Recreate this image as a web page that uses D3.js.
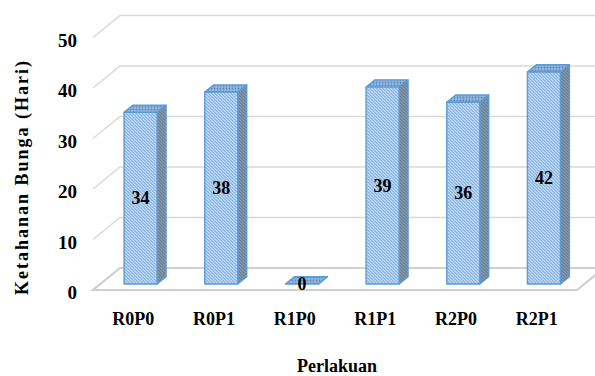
<!DOCTYPE html>
<html>
<head>
<meta charset="utf-8">
<script src="https://cdn.jsdelivr.net/npm/d3@7"></script>
<style>
  html, body { margin: 0; padding: 0; background: #ffffff; }
  svg { display: block; }
</style>
</head>
<body>
<svg id="chart" width="595" height="376"></svg>
<script>
// Flower longevity (days) per treatment
const categories = ["R0P0", "R0P1", "R1P0", "R1P1", "R2P0", "R2P1"];
const values = [34, 38, 0, 39, 36, 42];
const yTicks = [0, 10, 20, 30, 40, 50];
const yTitle = "Ketahanan Bunga (Hari)";
const xTitle = "Perlakuan";

const FONT = "'Liberation Serif', 'Times New Roman', Tinos, 'DejaVu Serif', serif";

const svg = d3.select("#chart")
  .attr("font-family", FONT).attr("font-weight", "bold");

// Oblique 3D projection: front plane + depth vector
const floorLeft = 93, floorRight = 577, floorY = 290;
const depthDX = 27, depthDY = -22;      // full depth of the plot box
const barZ0 = 0.27, barZ1 = 0.6;        // bar position inside the depth

const x = d3.scaleBand().domain(categories)
  .range([floorLeft, floorRight])
  .paddingInner(0.59).paddingOuter(0.295);
const y = d3.scaleLinear().domain([0, 50]).range([floorY, floorY - 252.5]);

// project (front-plane x, value, depth z) -> screen
const P = (px, v, z) => [px + depthDX * z, y(v) + depthDY * z];
const poly = pts => "M" + pts.map(p => p.join(",")).join("L") + "Z";

// Fill patterns for the bar faces
const defs = svg.append("defs");
function hatch(id, bg, fg, size, w) {
  const p = defs.append("pattern").attr("id", id)
    .attr("patternUnits", "userSpaceOnUse").attr("width", size).attr("height", size);
  p.append("rect").attr("width", size).attr("height", size).attr("fill", bg);
  p.append("path")
    .attr("d", `M0,0L${size},${size}M${-size},0L${size},${2*size}M0,${-size}L${2*size},${size}`)
    .attr("stroke", fg).attr("stroke-width", w);
}
hatch("faceFront", "#d3e4f6", "#78abe0", 3.2, 1.15);
hatch("faceSide", "#8e9fb2", "#66798f", 3.2, 1.15);
const dots = defs.append("pattern").attr("id", "faceTop")
  .attr("patternUnits", "userSpaceOnUse").attr("width", 3).attr("height", 3);
dots.append("rect").attr("width", 3).attr("height", 3).attr("fill", "#93b5dc");
dots.append("circle").attr("cx", 1.5).attr("cy", 1.5).attr("r", 0.95).attr("fill", "#5e8bbf");

const grid = svg.append("g").attr("fill", "none").attr("stroke", "#d9d9d9").attr("stroke-width", 1.5);

// Back wall gridlines and side wall slants
yTicks.filter(t => t > 0).forEach(t => {
  const a = P(floorLeft, t, 0), b = P(floorLeft, t, 1), c = P(floorRight + 40, t, 1);
  grid.append("path").attr("d", `M${a}L${b}L${c}`);
});

// Floor
svg.append("path")
  .attr("d", poly([P(floorLeft, 0, 0), P(floorRight, 0, 0), P(floorRight, 0, 1), P(floorLeft, 0, 1)]))
  .attr("fill", "none").attr("stroke", "#cfcfcf").attr("stroke-width", 2.2);

// Bars
const bars = svg.append("g").selectAll("g").data(categories).join("g")
  .attr("stroke", "#5b9bd5").attr("stroke-width", 1.4).attr("stroke-linejoin", "round");

bars.each(function (c, i) {
  const g = d3.select(this);
  const v = values[i];
  const x0 = x(c), x1 = x(c) + x.bandwidth();
  // right side face
  g.append("path").attr("fill", "url(#faceSide)")
    .attr("d", poly([P(x1, 0, barZ0), P(x1, 0, barZ1), P(x1, v, barZ1), P(x1, v, barZ0)]));
  // top face
  g.append("path").attr("fill", "url(#faceTop)")
    .attr("d", poly([P(x0, v, barZ0), P(x1, v, barZ0), P(x1, v, barZ1), P(x0, v, barZ1)]));
  // front face
  if (v > 0) {
    g.append("path").attr("fill", "url(#faceFront)")
      .attr("d", poly([P(x0, 0, barZ0), P(x1, 0, barZ0), P(x1, v, barZ0), P(x0, v, barZ0)]));
  }
});

// Value labels centred on the bar front faces
svg.append("g").selectAll("text").data(categories).join("text")
  .attr("x", (c) => P(x(c) + x.bandwidth() / 2, 0, barZ0)[0])
  .attr("y", (c, i) => (P(0, 0, barZ0)[1] + P(0, values[i], barZ0)[1]) / 2)
  .attr("text-anchor", "middle").attr("dominant-baseline", "central")
  .attr("font-size", 18)
  .text((c, i) => values[i]);

// Y tick labels
svg.append("g").selectAll("text").data(yTicks).join("text")
  .attr("x", 77).attr("y", d => y(d) + 2.5)
  .attr("text-anchor", "end").attr("dominant-baseline", "central")
  .attr("font-size", 19)
  .text(d => d);

// Category labels along the front edge of the floor
svg.append("g").selectAll("text").data(categories).join("text")
  .attr("x", c => x(c) + x.bandwidth() / 2)
  .attr("y", 319)
  .attr("text-anchor", "middle").attr("dominant-baseline", "central")
  .attr("font-size", 18)
  .text(c => c);

// Axis titles
svg.append("text")
  .attr("x", 337).attr("y", 366)
  .attr("text-anchor", "middle").attr("dominant-baseline", "central")
  .attr("font-size", 18)
  .text(xTitle);

svg.append("text")
  .attr("transform", "translate(22,177) rotate(-90)")
  .attr("text-anchor", "middle").attr("dominant-baseline", "central")
  .attr("font-size", 18).attr("letter-spacing", 2)
  .text(yTitle);
</script>
</body>
</html>
